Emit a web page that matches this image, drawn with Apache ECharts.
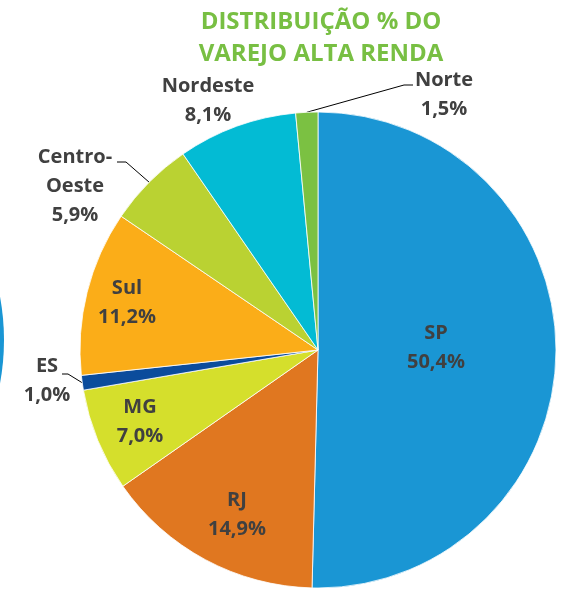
<!DOCTYPE html>
<html>
<head>
<meta charset="utf-8">
<title>Distribuição % do varejo alta renda</title>
<script src="https://cdn.jsdelivr.net/npm/echarts@6/dist/echarts.min.js"></script>
<style>
  html, body { margin: 0; padding: 0; background: #fff; }
  #chart { width: 562px; height: 591px; }
</style>
</head>
<body>
<div id="chart"></div>
<script>
// regiões, no sentido horário a partir do topo
var regions = ['SP', 'RJ', 'MG', 'ES', 'Sul', 'Centro-Oeste', 'Nordeste', 'Norte'];
var shares = [50.4, 14.9, 7.0, 1.0, 11.2, 5.9, 8.1, 1.5];
var sliceColors = ['#1a96d4', '#e07720', '#d5df2c', '#0b4c9c', '#fbad18', '#bad232', '#03bbd4', '#7bc142'];

// onde fica cada rótulo (centro do bloco de texto) e a linha de chamada
var labelSpots = [
  { x: 436, y: 348 },
  { x: 237, y: 515 },
  { x: 140, y: 422 },
  { x: 47, y: 381, line: [[15, -7], [21, -7]] },
  { x: 127, y: 303 },
  { x: 75, y: 186, line: [[42, -24], [51, -24]] },
  { x: 208, y: 101 },
  { x: 444, y: 95, line: [[-31, -10], [-40, -10]] }
];

var chart = echarts.init(document.getElementById('chart'));

var pieData = regions.map(function (name, i) {
  var spot = labelSpots[i];
  var inside = !spot.line && name !== 'Nordeste';
  return {
    name: name,
    value: shares[i],
    itemStyle: { color: sliceColors[i] },
    label: { position: inside ? 'inside' : 'outside' },
    labelLine: { show: !!spot.line }
  };
});

var option = {
  backgroundColor: '#ffffff',
  animation: false,
  title: {
    text: 'DISTRIBUIÇÃO % DO\nVAREJO ALTA RENDA',
    left: 316,
    top: 1,
    textAlign: 'center',
    textStyle: {
      color: '#78bf43',
      fontFamily: 'Open Sans',
      fontWeight: 'bold',
      fontSize: 24,
      lineHeight: 32
    }
  },
  // borda do outro gráfico, cortada à esquerda
  graphic: [
    {
      type: 'circle',
      shape: { cx: -234, cy: 340, r: 238 },
      style: { fill: '#1a96d4' },
      silent: true
    }
  ],
  series: [
    {
      type: 'pie',
      center: [318, 350],
      radius: 238,
      startAngle: 90,
      clockwise: true,
      avoidLabelOverlap: false,
      data: pieData,
      itemStyle: {
        borderColor: '#ffffff',
        borderWidth: 0.8
      },
      label: {
        color: '#404040',
        fontFamily: 'Open Sans',
        fontWeight: 'bold',
        fontSize: 20,
        lineHeight: 29,
        align: 'center',
        formatter: function (p) {
          var name = p.name.replace('-', '-\n');
          return name + '\n' + p.value.toFixed(1).replace('.', ',') + '%';
        }
      },
      labelLine: {
        lineStyle: { color: '#000000', width: 1 }
      },
      labelLayout: function (params) {
        var spot = labelSpots[params.dataIndex];
        var out = { x: spot.x, y: spot.y, align: 'center', verticalAlign: 'middle' };
        if (spot.line && params.labelLinePoints) {
          var anchor = params.labelLinePoints[0];
          out.labelLinePoints = [
            anchor,
            [spot.x + spot.line[1][0], spot.y + spot.line[1][1]],
            [spot.x + spot.line[0][0], spot.y + spot.line[0][1]]
          ];
        }
        return out;
      }
    }
  ]
};

chart.setOption(option);
</script>
</body>
</html>
